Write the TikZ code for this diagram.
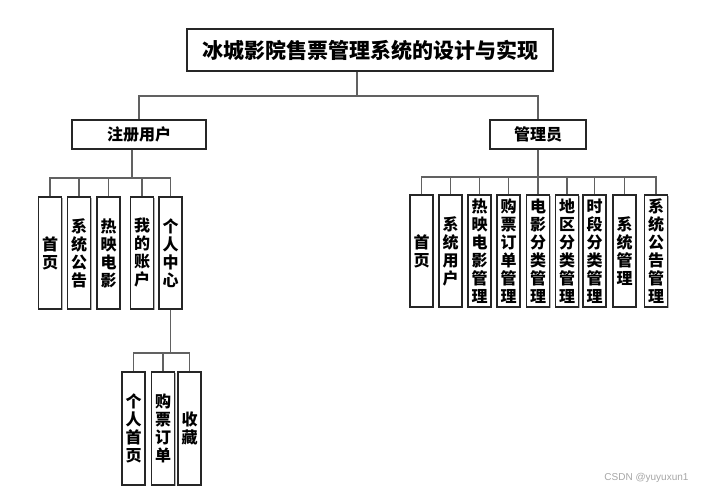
\documentclass[tikz,border=0pt]{standalone}
\usepackage{fontspec}
\setmainfont{Noto Sans CJK SC}
\newfontfamily\wmfont{Liberation Sans}
\usetikzlibrary{shadows}
\begin{document}
\begin{tikzpicture}[x=1pt, y={(0pt,-1pt)},
  box/.style={draw=black!85, line width=1.1pt, fill=white, inner sep=0pt,
    align=center, font=\bfseries\fontsize{16}{18}\selectfont,
    drop shadow={shadow xshift=1.2pt, shadow yshift=-1.2pt, fill=black!30, opacity=1}},
  vbox/.style={box, minimum width=23pt, minimum height=112pt},
  link/.style={draw=black!62, line width=1.7pt}]
\useasboundingbox (0,0) rectangle (703,491);

% top level
\node[box, minimum width=366pt, minimum height=42pt,
      font=\bfseries\fontsize{21}{25}\selectfont] (root) at (370,50) {冰城影院售票管理系统的设计与实现};
\node[box, minimum width=134pt, minimum height=29pt] (user) at (139,134.5) {注册用户};
\node[box, minimum width=96pt, minimum height=29pt] (admin) at (538,134.5) {管理员};

% registered user
\node[vbox] (u1) at (50,253) {首\\页};
\node[vbox] (u2) at (79,253) {系\\统\\公\\告};
\node[vbox] (u3) at (108.5,253) {热\\映\\电\\影};
\node[vbox] (u4) at (142,253) {我\\的\\账\\户};
\node[vbox] (u5) at (170.5,253) {个\\人\\中\\心};

% personal centre
\node[vbox, minimum height=113pt] (p1) at (133.5,428.5) {个\\人\\首\\页};
\node[vbox, minimum height=113pt] (p2) at (163,428.5) {购\\票\\订\\单};
\node[vbox, minimum height=113pt] (p3) at (189.5,428.5) {收\\藏};

% administrator
\node[vbox] (a1) at (421.5,251) {首\\页};
\node[vbox] (a2) at (450.5,251) {系\\统\\用\\户};
\node[vbox] (a3) at (479.5,251) {热\\映\\电\\影\\管\\理};
\node[vbox] (a4) at (508.5,251) {购\\票\\订\\单\\管\\理};
\node[vbox] (a5) at (538,251) {电\\影\\分\\类\\管\\理};
\node[vbox] (a6) at (567,251) {地\\区\\分\\类\\管\\理};
\node[vbox] (a7) at (594.5,251) {时\\段\\分\\类\\管\\理};
\node[vbox] (a8) at (624.5,251) {系\\统\\管\\理};
\node[vbox] (a9) at (656,251) {系\\统\\公\\告\\管\\理};

% connectors
\coordinate (bus0) at (357,96);
\draw[link] (bus0 |- root.south) -- (bus0);
\draw[link] (user.north) -- (user.north |- bus0) -- (admin.north |- bus0) -- (admin.north);

\coordinate (busU) at (132,178);
\draw[link] (busU |- user.south) -- (busU);
\draw[link] (u1.north) -- (u1.north |- busU) -- (u5.north |- busU) -- (u5.north);
\foreach \c in {u2,u3,u4} \draw[link] (\c.north) -- (\c.north |- busU);

\coordinate (busP) at (171,353);
\draw[link] (u5.south) -- (u5.south |- busP);
\draw[link] (p1.north) -- (p1.north |- busP) -- (p3.north |- busP) -- (p3.north);
\draw[link] (p2.north) -- (p2.north |- busP);

\coordinate (busA) at (538,177);
\draw[link] (admin.south) -- (busA);
\draw[link] (a1.north) -- (a1.north |- busA) -- (a9.north |- busA) -- (a9.north);
\foreach \c in {a2,a3,a4,a5,a6,a7,a8} \draw[link] (\c.north) -- (\c.north |- busA);

% watermark
\node[font=\wmfont\fontsize{10}{12}\selectfont, text=black!35, anchor=east] (wm) at (692,478) {CSDN @yuyuxun1};
\end{tikzpicture}
\end{document}
